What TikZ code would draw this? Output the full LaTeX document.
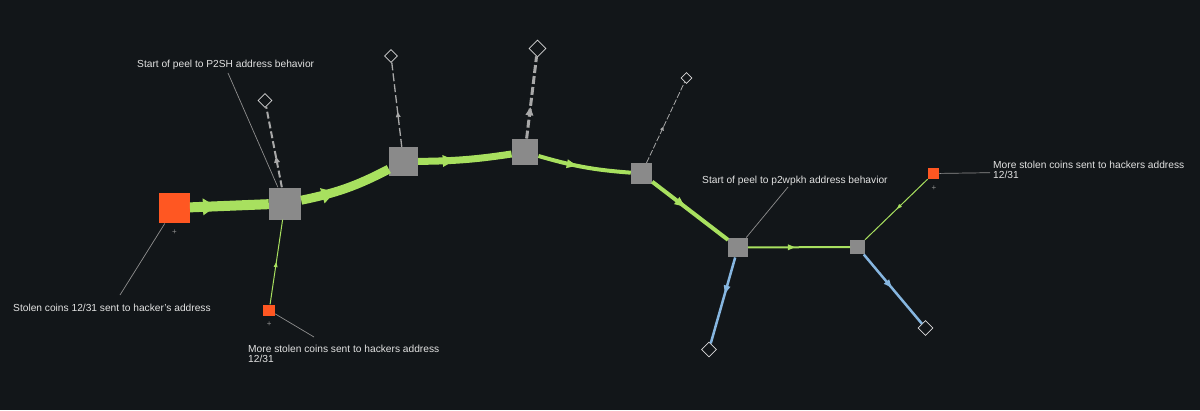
\documentclass[tikz,border=0pt]{standalone}
\usepackage{fontspec}
\setmainfont{Liberation Sans}
\usetikzlibrary{shapes.geometric,decorations.markings}
\definecolor{bgc}{HTML}{121619}
\definecolor{grn}{HTML}{A8E05F}
\definecolor{org}{HTML}{FF5722}
\definecolor{nodegray}{HTML}{8A8A8A}
\definecolor{blu}{HTML}{86B6E0}
\definecolor{dgray}{HTML}{A8A8A8}
\definecolor{txt}{HTML}{E2E2E2}
\definecolor{lead}{HTML}{8F8F8F}
\definecolor{dia}{HTML}{D8D8D8}
\begin{document}
\begin{tikzpicture}[x=1pt,y=-1pt,
  sq/.style={rectangle,inner sep=0pt,fill=nodegray,minimum width=#1,minimum height=#1},
  osq/.style={rectangle,inner sep=0pt,fill=org,minimum width=#1,minimum height=#1},
  dmd/.style={diamond,inner sep=0pt,draw=dia,line width=0.7pt,fill=bgc,minimum width=#1,minimum height=#1},
  lbl/.style={inner sep=0pt,text=txt,font=\fontsize{10.2}{10}\selectfont,align=left},
  leader/.style={draw=lead,line width=0.7pt},
  plus/.style={inner sep=0pt,text=lead,font=\fontsize{8}{8}\selectfont},
  tipat/.style n args={4}{postaction={decorate,decoration={markings,mark=at position #1 with {\fill[#4] (-#2,-#3) -- (0,0) -- (-#2,#3) -- cycle;}}}},
  greenedge/.style={draw=grn},
  blueedge/.style={draw=blu,line width=2.5pt},
  grayedge/.style={draw=dgray},
]
\fill[bgc] (0,0) rectangle (1200,410);

% nodes
\node[osq=30.5pt] (A) at (174.5,208) {};
\node[sq=32pt] (B) at (285,203.5) {};
\node[sq=29pt] (C) at (403.5,161.5) {};
\node[sq=26.5pt] (D) at (525,152) {};
\node[sq=21pt] (E) at (641.5,173.5) {};
\node[sq=19.5pt] (F) at (738,247.5) {};
\node[sq=14.5pt] (G) at (857.5,247) {};
\node[osq=11.5pt] (H) at (933.5,173.5) {};
\node[osq=11.5pt] (I) at (269.2,310.3) {};

\node[dmd=14pt] (Bd) at (265,100.5) {};
\node[dmd=13pt] (Cd) at (391,56) {};
\node[dmd=17pt] (Dd) at (537.5,48.5) {};
\node[dmd=11pt] (Ed) at (686.5,78) {};
\node[dmd=15pt] (Fd) at (709,349.5) {};
\node[dmd=15pt] (Gd) at (925.5,328) {};

\node[plus] (pA) at (174.5,232) {+};
\node[plus] (pI) at (269.2,324) {+};
\node[plus] (pH) at (934,188) {+};

% green flow
\draw[greenedge,line width=10pt,tipat={0.33}{13}{8.5}{grn}] (A) -- (B);
\draw[greenedge,line width=9pt,tipat={0.37}{13}{8}{grn}] (B) to[bend right=8] (C);
\draw[greenedge,line width=7pt,tipat={0.39}{12}{6}{grn}] (C) to[bend right=4] (D);
\draw[greenedge,line width=4pt,tipat={0.42}{10}{4.5}{grn}] (D) to[bend right=6] (E);
\draw[greenedge,line width=4pt,tipat={0.43}{10}{4.5}{grn}] (E) -- (F);
\draw[greenedge,line width=2pt,tipat={0.46}{7}{3}{grn}] (F) -- (G);
\draw[greenedge,line width=1pt,tipat={0.49}{5}{2}{grn}] (H) -- (G);
\draw[greenedge,line width=1pt,tipat={0.5}{5}{2}{grn}] (I) -- (B);

% blue
\draw[blueedge,tipat={0.42}{8}{3.5}{blu}] (F) -- (Fd);
\draw[blueedge,tipat={0.48}{8}{3.5}{blu}] (G) -- (Gd);

% gray dashed
\draw[grayedge,line width=2pt,dash pattern=on 7pt off 3pt,tipat={0.38}{6}{3}{dgray}] (B) -- (Bd);
\draw[grayedge,line width=1.3pt,dash pattern=on 8pt off 3pt,tipat={0.41}{5}{2.5}{dgray}] (C) -- (Cd);
\draw[grayedge,line width=3pt,dash pattern=on 8pt off 3pt,tipat={0.38}{8}{4}{dgray}] (D) -- (Dd);
\draw[grayedge,line width=0.8pt,dash pattern=on 6pt off 2pt,tipat={0.45}{4}{2}{dgray}] (E) -- (Ed);

% labels
\node[lbl,anchor=base west] (t1) at (137,67.7) {Start of peel to P2SH address behavior};
\node[lbl,anchor=base west] (t2) at (13,311) {Stolen coins 12/31 sent to hacker's address};
\node[lbl,anchor=north west] (t3) at (248,344.6) {More stolen coins sent to hackers address\\12/31};
\node[lbl,anchor=base west] (t4) at (702,183) {Start of peel to p2wpkh address behavior};
\node[lbl,anchor=north west] (t5) at (993,160.6) {More stolen coins sent to hackers address\\12/31};

\coordinate (l1) at (228,73);
\coordinate (l2) at (120,295);
\coordinate (l3) at (314,337);
\coordinate (l4) at (788,187);
\coordinate (l5) at (990,172.7);
\draw[leader] (l1) -- (B);
\draw[leader] (l2) -- (A);
\draw[leader] (l3) -- (I);
\draw[leader] (l4) -- (F);
\draw[leader] (l5) -- (H);
\end{tikzpicture}
\end{document}
